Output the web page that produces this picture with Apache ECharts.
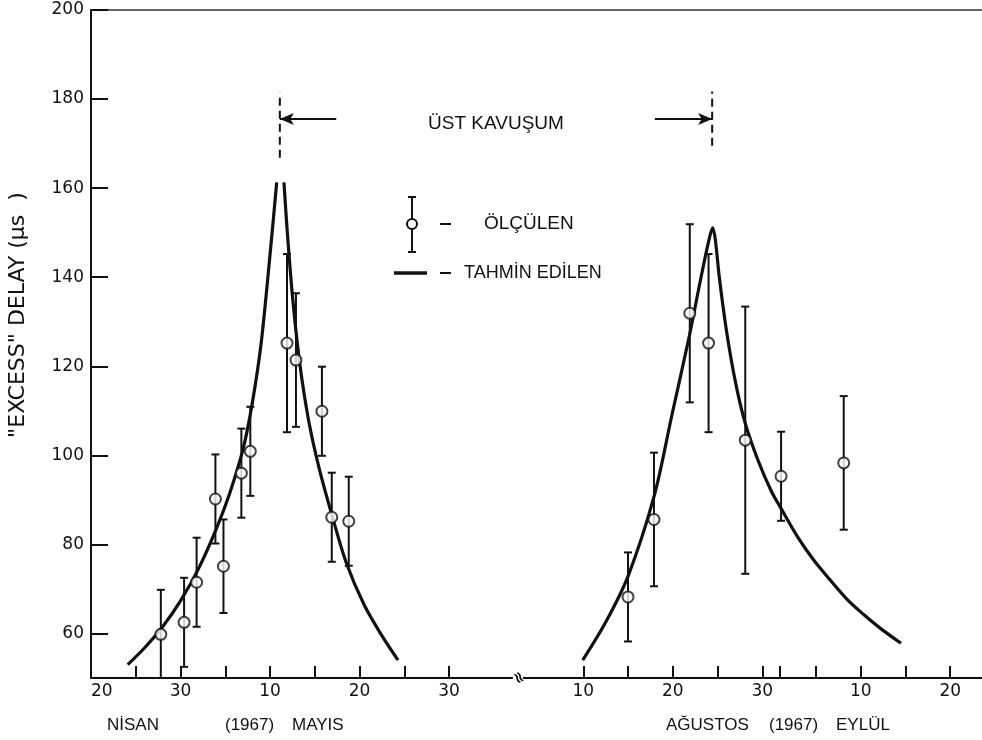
<!DOCTYPE html>
<html><head><meta charset="utf-8">
<script src="https://cdn.jsdelivr.net/npm/echarts@6/dist/echarts.min.js"></script>
<style>html,body{margin:0;padding:0;background:#fff}#c{width:982px;height:740px}</style>
</head><body><div id="c"></div>
<script>
// ---- DATA (x values = day of year 1967, fractional where read between ticks) ----
const obsDoy   = [117.8, 120.4, 121.8, 123.9, 124.8, 126.8, 127.8, 131.9, 132.9, 135.8, 136.9, 138.8,
                  227.0, 229.9, 233.9, 236.0, 240.1, 244.1, 251.1];
const obsValue = [59.8, 62.5, 71.5, 90.2, 75.1, 96.0, 100.9, 125.2, 121.4, 109.9, 86.1, 85.2,
                  68.2, 85.6, 131.9, 125.2, 103.4, 95.3, 98.3];
const obsErr   = [10, 10, 10, 10, 10.5, 10, 10, 20, 15, 10, 10, 10,
                  10, 15, 20, 20, 30, 10, 15];

const predLeftADoy = [114.1, 116.0, 118.0, 120.0, 122.0, 124.0, 125.5, 127.0, 128.0, 129.0, 130.0, 130.75];
const predLeftAVal = [53.0, 56.8, 61.5, 67.3, 74.5, 83.5, 91.5, 101.5, 111.5, 125.0, 145.0, 161.3];
const predLeftBDoy = [131.56, 131.9, 132.5, 133.3, 134.3, 135.5, 137.0, 138.5, 140.5, 142.5, 144.3];
const predLeftBVal = [161.3, 151.0, 136.0, 121.0, 108.0, 97.0, 86.0, 76.0, 66.5, 59.5, 54.0];
const predRightDoy = [221.94, 224.5, 227.03, 229.94, 231.9, 233.85, 235.04, 235.97, 236.46, 236.75, 237.2, 238.0,
                      239.0, 240.07, 241.5, 243.0, 244.06, 246.0, 247.7, 249.5, 251.5, 253.3, 255.16, 257.5];
const predRightVal = [54.0, 62.5, 73.0, 91.0, 109.0, 126.8, 138.8, 147.7, 151.1, 148.5, 140.0, 128.0,
                      116.5, 107.4, 99.0, 92.0, 88.2, 81.5, 76.6, 72.2, 67.6, 64.3, 61.2, 57.8];

const conjDoy = [131.1, 236.4];            // Üst kavuşum markers
const arrowEndDoy = [137.4, 230.0];

const xTickDoy   = [110, 115, 120, 125, 130, 135, 140, 145, 150, 222, 227, 232, 237, 242, 244, 248, 253, 258, 263];
const xLabelDoy  = [110, 120, 130, 140, 150, 222, 232, 242, 253, 263];
const xLabelText = ['20', '30', '10', '20', '30', '10', '20', '30', '10', '20'];
const yTicks = [60, 80, 100, 120, 140, 160, 180, 200];

const monthLabels = ['NİSAN', '(1967)', 'MAYIS', 'AĞUSTOS', '(1967)', 'EYLÜL'];
const yTitle = '"EXCESS" DELAY (μs  )';
const legendTexts = ['ÖLÇÜLEN', 'TAHMİN EDİLEN'];
const conjText = 'ÜST KAVUŞUM';

// broken date axis: Apr 20 -> 0 ; Aug 10 -> 55
const toAxis = d => d < 180 ? d - 110 : d - 167;
const labelMap = {};
xLabelDoy.forEach((d, i) => { labelMap[Math.round(toAxis(d) * 100)] = xLabelText[i]; });

const INK = '#111';
const obsData = obsDoy.map((d, i) => [toAxis(d), obsValue[i], obsErr[i]]);
const curve = (ds, vs) => ds.map((d, i) => [toAxis(d), vs[i]]);

const chart = echarts.init(document.getElementById('c'));
const Y_MIN = 50, Y_MAX = 200;
const X_MAX = 99.55;
const curveStyle = { color: INK, width: 3.2 };

const option = {
  animation: false,
  backgroundColor: '#fff',
  grid: { left: 91, top: 10, right: 0, bottom: 62, containLabel: false },
  xAxis: [{
    type: 'value', min: 0, max: X_MAX,
    axisLine: { show: true, onZero: false, lineStyle: { color: INK, width: 2 } },
    axisTick: { show: true, inside: true, length: 12, customValues: xTickDoy.map(toAxis), lineStyle: { color: INK, width: 2 } },
    axisLabel: {
      customValues: xLabelDoy.map(toAxis), alignMinLabel: 'left',
      formatter: v => labelMap[Math.round(v * 100)] || '',
      fontFamily: 'DejaVu Sans', fontSize: 17, color: INK, margin: 5
    },
    splitLine: { show: false }
  }, {
    type: 'value', position: 'top', min: 0, max: X_MAX,
    axisLine: { show: true, onZero: false, lineStyle: { color: '#333', width: 1.5 } },
    axisTick: { show: false }, axisLabel: { show: false }, splitLine: { show: false }
  }],
  yAxis: {
    type: 'value', min: Y_MIN, max: Y_MAX,
    axisLine: { show: true, lineStyle: { color: INK, width: 2 } },
    axisTick: { show: true, inside: true, length: 17, customValues: yTicks, lineStyle: { color: INK, width: 2 } },
    axisLabel: { customValues: yTicks, fontFamily: 'DejaVu Sans', fontSize: 17, color: INK, margin: 7 },
    splitLine: { show: false }
  },
  series: [
    { type: 'line', data: curve(predLeftADoy, predLeftAVal), smooth: 0.3, showSymbol: false,
      lineStyle: curveStyle, z: 2 },
    { type: 'line', data: curve(predLeftBDoy, predLeftBVal), smooth: 0.3, showSymbol: false,
      lineStyle: curveStyle, z: 2 },
    { type: 'line', data: curve(predRightDoy, predRightVal), smooth: 0.3, showSymbol: false,
      lineStyle: curveStyle, z: 2,
      markLine: {
        silent: true, symbol: ['arrow', 'none'], symbolSize: [9, 14],
        lineStyle: { color: INK, width: 2, type: 'solid' }, label: { show: false },
        data: conjDoy.map((d, i) => [{ coord: [toAxis(d), 175.5] }, { coord: [toAxis(arrowEndDoy[i]), 175.5] }])
      } },
    { type: 'custom', z: 3,
      data: obsData,
      encode: { x: 0, y: 1 },
      renderItem: (params, api) => {
        const x = api.value(0), y = api.value(1), e = api.value(2);
        const lo = Math.max(y - e, Y_MIN);
        const top = api.coord([x, y + e]);
        const bot = api.coord([x, lo]);
        const cw = 4;
        const st = { stroke: INK, lineWidth: 2 };
        const ch = [
          { type: 'line', shape: { x1: top[0], y1: top[1], x2: bot[0], y2: bot[1] }, style: st },
          { type: 'line', shape: { x1: top[0] - cw, y1: top[1], x2: top[0] + cw, y2: top[1] }, style: st }
        ];
        if (y - e > Y_MIN) ch.push({ type: 'line', shape: { x1: bot[0] - cw, y1: bot[1], x2: bot[0] + cw, y2: bot[1] }, style: st });
        return { type: 'group', children: ch };
      } },
    { type: 'scatter', z: 4, data: obsData.map(p => [p[0], p[1]]), symbol: 'circle', symbolSize: 11,
      itemStyle: { color: '#fff', borderColor: INK, borderWidth: 2 } },
    { type: 'line', data: [[toAxis(conjDoy[0]), 166.8], [toAxis(conjDoy[0]), 181.5]], showSymbol: false,
      lineStyle: { color: INK, width: 2, type: [8, 5] } },
    { type: 'line', data: [[toAxis(conjDoy[1]), 169.5], [toAxis(conjDoy[1]), 181.7]], showSymbol: false,
      lineStyle: { color: INK, width: 2, type: [8, 5] } }
  ]
};
chart.setOption(option);

// positions of texts
const brk = chart.convertToPixel({ gridIndex: 0 }, [toAxis(157.7), Y_MIN]);
const T = (text, x, y, size, extra) => Object.assign({ type: 'text', x, y, style: Object.assign({ text, fill: INK,
  font: size + 'px "Liberation Sans", Arial, sans-serif', textVerticalAlign: 'middle' }, extra || {}) });
chart.setOption({
  graphic: [
    { type: 'text', x: 18, y: 315, rotation: Math.PI / 2,
      style: { text: yTitle, fill: INK, font: '22px "DejaVu Sans", sans-serif', textAlign: 'center', textVerticalAlign: 'middle' } },
    T(monthLabels[0], 107, 725, 17), T(monthLabels[1], 225, 725, 17), T(monthLabels[2], 292, 725, 17),
    T(monthLabels[3], 666, 725, 17), T(monthLabels[4], 769, 725, 17), T(monthLabels[5], 836, 725, 17),
    T(conjText, 496, 124, 19, { textAlign: 'center' }),
    T(legendTexts[0], 484, 224, 19), T(legendTexts[1], 464, 273, 18),
    // legend glyphs
    { type: 'line', shape: { x1: 412, y1: 197, x2: 412, y2: 252 }, style: { stroke: INK, lineWidth: 2 } },
    { type: 'line', shape: { x1: 408, y1: 197, x2: 416, y2: 197 }, style: { stroke: INK, lineWidth: 2 } },
    { type: 'line', shape: { x1: 408, y1: 252, x2: 416, y2: 252 }, style: { stroke: INK, lineWidth: 2 } },
    { type: 'circle', shape: { cx: 412, cy: 224, r: 5 }, style: { fill: '#fff', stroke: INK, lineWidth: 2 }, z: 10 },
    { type: 'line', shape: { x1: 440, y1: 224, x2: 451, y2: 224 }, style: { stroke: INK, lineWidth: 2 } },
    { type: 'line', shape: { x1: 394, y1: 273, x2: 427, y2: 273 }, style: { stroke: INK, lineWidth: 3.5 } },
    { type: 'line', shape: { x1: 440, y1: 273, x2: 451, y2: 273 }, style: { stroke: INK, lineWidth: 2 } },
    // axis break mark
    { type: 'rect', shape: { x: brk[0] - 5, y: brk[1] - 3, width: 10, height: 6 }, style: { fill: '#fff' }, z: 100 },
    { type: 'text', x: brk[0], y: brk[1], rotation: -Math.PI / 3, z: 101,
      style: { text: '≈', fill: INK, font: 'bold 16px "DejaVu Sans"', textAlign: 'center', textVerticalAlign: 'middle' } }
  ]
});
</script></body></html>
